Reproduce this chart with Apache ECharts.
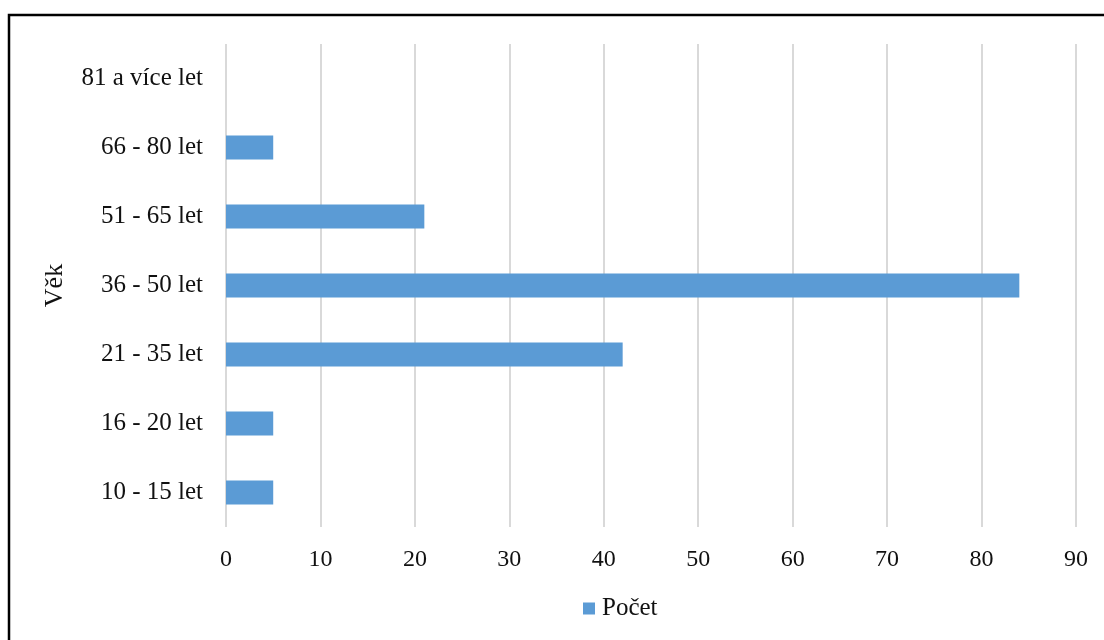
<!DOCTYPE html>
<html>
<head>
<meta charset="utf-8">
<script src="https://cdn.jsdelivr.net/npm/echarts@6/dist/echarts.min.js"></script>
<style>html,body{margin:0;padding:0;background:#fff}#c{width:1104px;height:640px}</style>
</head>
<body>
<div id="c"></div>
<script>
const categories = ['10 - 15 let', '16 - 20 let', '21 - 35 let', '36 - 50 let', '51 - 65 let', '66 - 80 let', '81 a více let'];
const counts = [5, 5, 42, 84, 21, 5, 0];
const seriesName = 'Počet';
const axisName = 'Věk';

const chart = echarts.init(document.getElementById('c'), null, {renderer: 'canvas'});
const font = '"Liberation Serif", "Times New Roman", serif';
chart.setOption({
  animation: false,
  backgroundColor: '#fff',
  textStyle: {fontFamily: font},
  graphic: [{
    type: 'rect',
    shape: {x: 9, y: 15, width: 1200, height: 800},
    style: {fill: 'none', stroke: '#000', lineWidth: 2.5},
    silent: true
  }],
  grid: {left: 226, right: 28, top: 44, bottom: 113},
  legend: {
    data: [seriesName],
    left: 578, top: 591,
    icon: 'rect', itemWidth: 12, itemHeight: 12, itemGap: 4,
    textStyle: {fontFamily: font, fontSize: 25, color: '#111', padding: [0, 0, 0, 2]}
  },
  xAxis: {
    type: 'value', min: 0, max: 90, interval: 10,
    axisLine: {show: false}, axisTick: {show: false},
    axisLabel: {fontFamily: font, fontSize: 24, color: '#111', margin: 21},
    splitLine: {lineStyle: {color: '#d9d9d9', width: 2}}
  },
  yAxis: {
    type: 'category', data: categories,
    name: axisName, nameLocation: 'middle', nameGap: 158, nameRotate: 90,
    nameTextStyle: {fontFamily: font, fontSize: 26, color: '#111'},
    axisLine: {show: false}, axisTick: {show: false},
    axisLabel: {fontFamily: font, fontSize: 25, color: '#111', margin: 23}
  },
  series: [{
    name: seriesName, type: 'bar', data: counts,
    barWidth: '35%',
    itemStyle: {color: '#5b9bd5'}
  }]
});
</script>
</body>
</html>
